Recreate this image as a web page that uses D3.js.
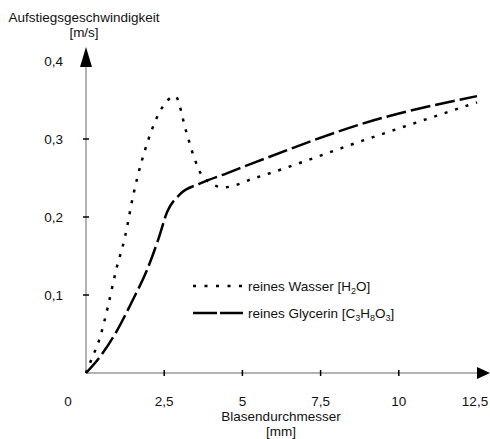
<!DOCTYPE html>
<html lang="de">
<head>
<meta charset="UTF-8">
<title>Aufstiegsgeschwindigkeit</title>
<script src="https://d3js.org/d3.v7.min.js"></script>
<style>
  body { margin: 0; background: #fff; }
  text { font-family: "Liberation Sans", Arial, sans-serif; font-size: 13.5px; fill: #111; }
</style>
</head>
<body>
<svg id="chart" width="490" height="439"></svg>
<script>
// Blasendurchmesser [mm] / Aufstiegsgeschwindigkeit [m/s]
const waterX = [0, 0.15, 0.45, 0.7, 0.95, 1.25, 1.5, 2.0, 2.4, 2.85, 3.2, 3.45, 3.75, 4.4, 5.4, 9.0, 12.5];
const waterY = [0, 0.015, 0.046, 0.085, 0.13, 0.175, 0.226, 0.30, 0.338, 0.355, 0.31, 0.277, 0.251, 0.238, 0.25, 0.30, 0.347];

const glycX = [0, 0.45, 1.0, 1.5, 1.95, 2.3, 2.6, 3.0, 3.65, 4.5, 5.4, 9.2, 12.5];
const glycY = [0, 0.021, 0.055, 0.094, 0.132, 0.17, 0.207, 0.229, 0.243, 0.256, 0.27, 0.324, 0.355];

const xTicks = [2.5, 5, 7.5, 10, 12.5];
const xTickLabels = ["2,5", "5", "7,5", "10", "12,5"];
const yTicks = [0.1, 0.2, 0.3, 0.4];
const yTickLabels = ["0,1", "0,2", "0,3", "0,4"];

const svg = d3.select("#chart");

const x = d3.scaleLinear().domain([0, 12.5]).range([86, 477]);
const y = d3.scaleLinear().domain([0, 0.4]).range([373, 61]);

// axes (grey lines with black arrow heads)
svg.append("line")
  .attr("x1", x(0)).attr("y1", y(0)).attr("x2", 482).attr("y2", y(0))
  .attr("stroke", "#999").attr("stroke-width", 1.5);
svg.append("line")
  .attr("x1", x(0)).attr("y1", y(0)).attr("x2", x(0)).attr("y2", 60)
  .attr("stroke", "#999").attr("stroke-width", 1.5);
svg.append("path")
  .attr("d", `M${x(0) - 6},${y(0.4) + 6} L${x(0)},${y(0.4) - 14} L${x(0) + 6},${y(0.4) + 6} Z`)
  .attr("fill", "#000");
svg.append("path")
  .attr("d", `M477,${y(0) - 6} L490,${y(0)} L477,${y(0) + 6} Z`)
  .attr("fill", "#000");

// ticks
svg.selectAll(".xtick").data(xTicks.slice(0, 4)).enter().append("line")
  .attr("x1", d => x(d)).attr("x2", d => x(d))
  .attr("y1", y(0) - 3).attr("y2", y(0) + 3)
  .attr("stroke", "#000").attr("stroke-width", 1.5);
svg.selectAll(".ytick").data(yTicks.slice(0, 3)).enter().append("line")
  .attr("x1", x(0) - 3).attr("x2", x(0) + 3)
  .attr("y1", d => y(d)).attr("y2", d => y(d))
  .attr("stroke", "#000").attr("stroke-width", 1.5);

// tick labels
svg.append("text").attr("x", 68).attr("y", 406).attr("text-anchor", "middle").text("0");
svg.selectAll(".xlab").data(xTicks).enter().append("text")
  .attr("x", (d, i) => i === 4 ? x(d) - 2 : x(d))
  .attr("y", 406)
  .attr("text-anchor", "middle")
  .text((d, i) => xTickLabels[i]);
svg.selectAll(".ylab").data(yTicks).enter().append("text")
  .attr("x", 63)
  .attr("y", d => y(d) + 5)
  .attr("text-anchor", "end")
  .text((d, i) => yTickLabels[i]);

// axis titles
svg.append("text").attr("x", 84).attr("y", 22).attr("text-anchor", "middle").text("Aufstiegsgeschwindigkeit");
svg.append("text").attr("x", 84).attr("y", 37).attr("text-anchor", "middle").text("[m/s]");
svg.append("text").attr("x", 281).attr("y", 421).attr("text-anchor", "middle").text("Blasendurchmesser");
svg.append("text").attr("x", 281).attr("y", 436).attr("text-anchor", "middle").text("[mm]");

// curves
const line = d3.line()
  .x(d => x(d[0]))
  .y(d => y(d[1]))
  .curve(d3.curveMonotoneX);

const water = waterX.map((v, i) => [v, waterY[i]]);
const glyc = glycX.map((v, i) => [v, glycY[i]]);

svg.append("path")
  .attr("d", line(water))
  .attr("fill", "none")
  .attr("stroke", "#000")
  .attr("stroke-width", 2.5)
  .attr("stroke-dasharray", "3,8");

svg.append("path")
  .attr("d", line(glyc))
  .attr("fill", "none")
  .attr("stroke", "#000")
  .attr("stroke-width", 2.5)
  .attr("stroke-dasharray", "20,5");

// legend
const legend = svg.append("g");
legend.append("line")
  .attr("x1", 193).attr("x2", 243).attr("y1", 286).attr("y2", 286)
  .attr("stroke", "#000").attr("stroke-width", 2.5).attr("stroke-dasharray", "3,8.5");
legend.append("line")
  .attr("x1", 193).attr("x2", 243).attr("y1", 313).attr("y2", 313)
  .attr("stroke", "#000").attr("stroke-width", 2.5).attr("stroke-dasharray", "24,3");

const t1 = legend.append("text").attr("x", 248).attr("y", 291);
t1.append("tspan").text("reines Wasser [H");
t1.append("tspan").attr("font-size", "9px").attr("dy", 3).text("2");
t1.append("tspan").attr("dy", -3).text("O]");

const t2 = legend.append("text").attr("x", 248).attr("y", 318);
t2.append("tspan").text("reines Glycerin [C");
t2.append("tspan").attr("font-size", "9px").attr("dy", 3).text("3");
t2.append("tspan").attr("dy", -3).text("H");
t2.append("tspan").attr("font-size", "9px").attr("dy", 3).text("8");
t2.append("tspan").attr("dy", -3).text("O");
t2.append("tspan").attr("font-size", "9px").attr("dy", 3).text("3");
t2.append("tspan").attr("dy", -3).text("]");
</script>
</body>
</html>
